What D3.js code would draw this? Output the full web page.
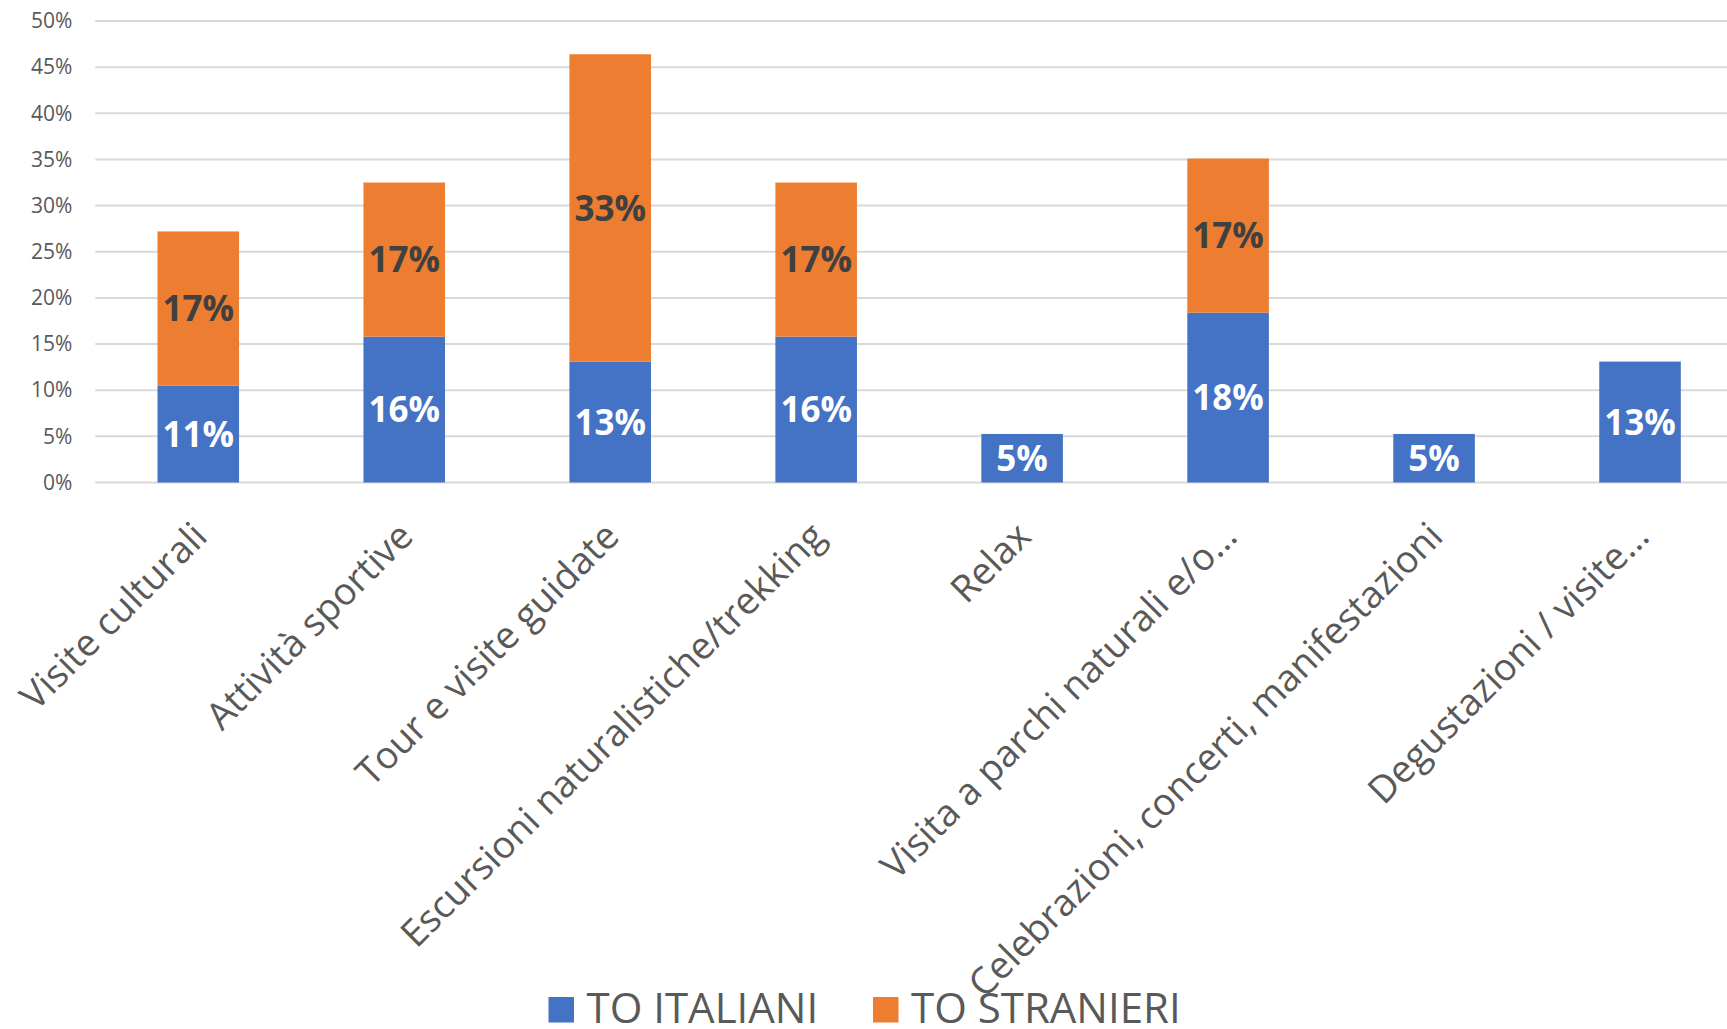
<!DOCTYPE html>
<html>
<head>
<meta charset="utf-8">
<script src="https://cdn.jsdelivr.net/npm/d3@7"></script>
<style>
  html, body { margin: 0; padding: 0; background: #fff; }
  svg { display: block; }
</style>
</head>
<body>
<div id="chart"></div>
<script>
const categories = [
  "Visite culturali",
  "Attività sportive",
  "Tour e visite guidate",
  "Escursioni naturalistiche/trekking",
  "Relax",
  "Visita a parchi naturali e/o…",
  "Celebrazioni, concerti, manifestazioni",
  "Degustazioni / visite…"
];
const seriesNames = ["TO ITALIANI", "TO STRANIERI"];
const toItaliani = [0.105, 0.158, 0.131, 0.158, 0.0526, 0.184, 0.0526, 0.131];
const toStranieri = [0.167, 0.167, 0.333, 0.167, 0, 0.167, 0, 0];
const yTicks = [0, 0.05, 0.10, 0.15, 0.20, 0.25, 0.30, 0.35, 0.40, 0.45, 0.50];
const colors = ["#4472C4", "#ED7D31"];

const W = 1727, H = 1029;
const margin = { left: 95.3, right: -16, top: 21, bottom: H - 482.5 };
const plotW = W - margin.left - margin.right;
const plotH = H - margin.top - margin.bottom;

const svg = d3.select("#chart").append("svg")
  .attr("width", W).attr("height", H)
  .style("font-family", "'Open Sans', 'Noto Sans', sans-serif");

const g = svg.append("g").attr("transform", `translate(${margin.left},${margin.top})`);

const x = d3.scaleBand().domain(categories).range([0, plotW]).paddingInner(0.604).paddingOuter(0.302);
const y = d3.scaleLinear().domain([0, 0.5]).range([plotH, 0]);

// gridlines
g.append("g").selectAll("line").data(yTicks).join("line")
  .attr("x1", 0).attr("x2", plotW)
  .attr("y1", d => y(d)).attr("y2", d => y(d))
  .attr("stroke", "#d9d9d9").attr("stroke-width", 2);

// y axis labels
const yAxis = d3.axisLeft(y).tickValues(yTicks).tickFormat(d3.format(".0%")).tickSize(0).tickPadding(23);
const ya = g.append("g").call(yAxis);
ya.select(".domain").remove();
ya.selectAll("text").attr("fill", "#595959").style("font-size", "21px")
  .style("font-family", "'Open Sans', sans-serif");

// stacked data
const rows = categories.map((c, i) => ({ cat: c, s0: toItaliani[i], s1: toStranieri[i] }));
const stack = d3.stack().keys(["s0", "s1"]);
const stacked = stack(rows);

const layers = g.append("g").selectAll("g").data(stacked).join("g")
  .attr("fill", (d, i) => colors[i]);
layers.selectAll("rect").data(d => d.filter(p => p[1] - p[0] > 0)).join("rect")
  .attr("x", d => x(d.data.cat))
  .attr("width", x.bandwidth())
  .attr("y", d => y(d[1]))
  .attr("height", d => y(d[0]) - y(d[1]));

// data labels
const lblG = g.append("g");
stacked.forEach((layer, li) => {
  lblG.selectAll(null).data(layer.filter(p => p[1] - p[0] > 0)).join("text")
    .attr("x", d => x(d.data.cat) + x.bandwidth() / 2)
    .attr("y", d => (y(d[0]) + y(d[1])) / 2)
    .attr("dy", "0.36em")
    .attr("text-anchor", "middle")
    .attr("fill", li === 0 ? "#ffffff" : "#404040")
    .style("font-size", "35px")
    .style("font-weight", "700")
    .text(d => d3.format(".0%")(d[1] - d[0]));
});

// x axis labels
const xl = g.append("g");
xl.selectAll("text").data(categories).join("text")
  .attr("transform", d => `translate(${x(d) + x.bandwidth() / 2 + 11},${plotH + 56}) rotate(-45)`)
  .attr("text-anchor", "end")
  .attr("fill", "#595959")
  .style("font-size", "37.5px")
  .text(d => d);

// legend
const legend = svg.append("g");
const legendItems = [
  { name: seriesNames[0], color: colors[0], x: 548.5 },
  { name: seriesNames[1], color: colors[1], x: 873 }
];
legendItems.forEach(it => {
  legend.append("rect").attr("x", it.x).attr("y", 997).attr("width", 25.5).attr("height", 25.5).attr("fill", it.color);
  legend.append("text").attr("x", it.x + 38).attr("y", 1023)
    .attr("fill", "#595959").style("font-size", "42px").text(it.name);
});
</script>
</body>
</html>
